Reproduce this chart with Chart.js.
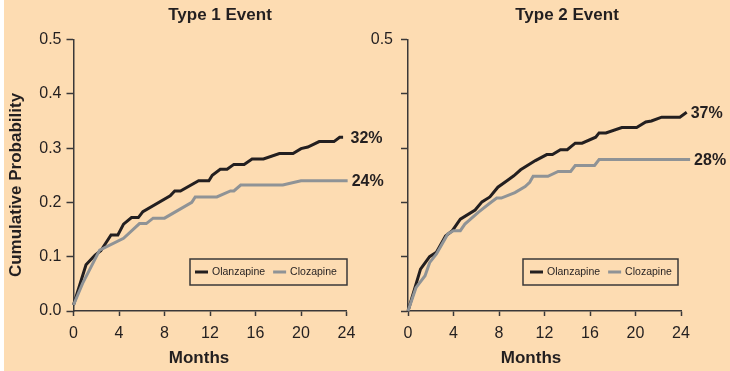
<!DOCTYPE html>
<html><head><meta charset="utf-8">
<script src="https://cdn.jsdelivr.net/npm/chart.js@4.4.0/dist/chart.umd.min.js"></script>
<style>
html,body{margin:0;padding:0;background:#fff;}
#bg{position:absolute;left:4px;top:0;width:726px;height:371px;background:#fddcb2;}
canvas{position:absolute;top:0;}
</style></head><body>
<div id="bg"></div>
<canvas id="c1" width="390" height="371" style="left:0px"></canvas>
<canvas id="c2" width="365" height="371" style="left:365px"></canvas>
<script>
// ---- data ----
const panelTitles = ['Type 1 Event', 'Type 2 Event'];
const seriesNames = ['Olanzapine', 'Clozapine'];
const xTicksMonths = [0, 4, 8, 12, 16, 20, 24];
const yTicksProb = [0.0, 0.1, 0.2, 0.3, 0.4, 0.5];

const t1OlanMonths = [0,1.1,1.9,2.4,3.3,3.9,4.4,5.1,5.7,6.1,8.5,8.9,9.4,11.0,11.9,12.2,12.9,13.5,14.1,15.0,15.7,16.7,18.1,19.3,20.0,20.6,21.6,22.9,23.4,23.7];
const t1OlanProb   = [0.011,0.085,0.103,0.111,0.140,0.140,0.160,0.172,0.172,0.183,0.212,0.221,0.221,0.240,0.240,0.250,0.261,0.261,0.270,0.270,0.280,0.280,0.290,0.290,0.299,0.302,0.312,0.312,0.320,0.320];
const t1ClozMonths = [0,0.8,2.3,4.4,5.8,6.4,7.0,8.0,10.4,10.7,12.6,13.8,14.1,14.7,18.4,20.0,24.1];
const t1ClozProb   = [0.011,0.051,0.112,0.134,0.161,0.161,0.171,0.171,0.200,0.210,0.210,0.221,0.221,0.232,0.232,0.240,0.240];

const t2OlanMonths = [0,1.1,1.9,2.5,3.3,3.9,4.6,5.9,6.5,7.2,7.9,8.7,9.3,9.9,11.2,12.2,12.7,13.4,14.0,14.7,15.3,16.5,16.8,17.4,18.8,20.1,20.9,21.4,22.3,23.9,24.5];
const t2OlanProb   = [0,0.077,0.100,0.108,0.138,0.148,0.169,0.186,0.201,0.210,0.228,0.240,0.249,0.260,0.277,0.288,0.288,0.297,0.297,0.309,0.309,0.320,0.328,0.328,0.338,0.338,0.348,0.350,0.357,0.357,0.366];
const t2ClozMonths = [0,0.7,1.5,1.9,2.5,3.5,4.0,4.6,5.0,6.2,7.1,7.8,8.2,9.4,10.3,10.7,11.0,12.3,13.2,14.3,14.7,16.4,16.8,24.8];
const t2ClozProb   = [0,0.043,0.065,0.089,0.105,0.142,0.148,0.148,0.160,0.182,0.197,0.208,0.208,0.218,0.229,0.237,0.248,0.248,0.257,0.257,0.268,0.268,0.279,0.279];

const t1EndLabels = ['32%', '24%'];
const t2EndLabels = ['37%', '28%'];

// ---- styles ----
const FONT = '"Liberation Sans", Arial, Helvetica, sans-serif';
const TXT = '#231f20';
const AX = '#3a3838';
const COLORS = ['#231f20', '#8f9396'];

function pts(xs, ys) { return xs.map((x, i) => ({ x: x, y: ys[i] })); }

const decor = {
  id: 'decor',
  afterDraw(chart, args, o) {
    const ctx = chart.ctx, ca = chart.chartArea;
    ctx.save();
    ctx.fillStyle = TXT;
    ctx.font = 'bold 17px ' + FONT;
    ctx.textAlign = 'center'; ctx.textBaseline = 'middle';
    ctx.fillText(o.title, o.titleX, 15);
    ctx.fillText('Months', o.monthsX, 358);
    if (o.yLabel) {
      ctx.save();
      ctx.translate(16, 185);
      ctx.rotate(-Math.PI / 2);
      ctx.fillText(o.yLabel, 0, 0);
      ctx.restore();
    }
    // end labels, in series order (datasets are stored reversed for drawing order)
    ctx.font = 'bold 16px ' + FONT;
    ctx.textAlign = 'left';
    const n = chart.data.datasets.length;
    const order = chart.data.datasets.map((d, i) => n - 1 - i);
    order.forEach((di, k) => {
      const meta = chart.getDatasetMeta(di);
      const last = meta.data[meta.data.length - 1];
      const x = Math.max(last.x, ca.right) + 4;
      ctx.fillText(o.endLabels[k], x, last.y + 1);
    });
    // legend
    const b = o.legendBox;
    ctx.strokeStyle = AX; ctx.lineWidth = 1.5;
    ctx.strokeRect(b.x, b.y, b.w, b.h);
    ctx.font = '10.5px ' + FONT;
    ctx.textBaseline = 'middle';
    let x = b.x + b.pad;
    const cy = b.y + b.h / 2;
    order.forEach(di => {
      const ds = chart.data.datasets[di];
      ctx.strokeStyle = ds.borderColor; ctx.lineWidth = 3;
      ctx.beginPath(); ctx.moveTo(x, cy); ctx.lineTo(x + 13, cy); ctx.stroke();
      x += 17;
      ctx.fillStyle = TXT;
      ctx.fillText(ds.label, x, cy);
      x += ctx.measureText(ds.label).width + 8;
    });
    ctx.restore();
  }
};

function makeChart(id, sets, showY, padRight, yWidth, yPad, decorOpts) {
  return new Chart(document.getElementById(id), {
    type: 'line',
    data: {
      datasets: sets.map((s, i) => ({
        label: seriesNames[i],
        data: pts(s[0], s[1]),
        borderColor: COLORS[i],
        borderWidth: 3,
        pointRadius: 0,
        tension: 0,
        fill: false,
        clip: false
      })).reverse()
    },
    options: {
      responsive: false,
      devicePixelRatio: 1,
      animation: false,
      layout: { padding: { left: 0, top: 39.5, right: padRight, bottom: 0 } },
      plugins: { legend: { display: false }, tooltip: { enabled: false }, decor: decorOpts },
      scales: {
        x: {
          type: 'linear', min: 0, max: 24,
          afterBuildTicks: s => { s.ticks = xTicksMonths.map(v => ({ value: v })); },
          afterFit: s => { s.height = 60; },
          grid: { drawOnChartArea: false, drawTicks: true, tickLength: 5, tickColor: AX, tickWidth: 1.5 },
          border: { display: true, color: AX, width: 1.5 },
          ticks: { color: TXT, font: { family: FONT, size: 16 }, padding: 8, maxRotation: 0 }
        },
        y: {
          min: 0, max: 0.5,
          afterBuildTicks: s => { s.ticks = yTicksProb.map(v => ({ value: v })); },
          afterFit: s => { s.width = yWidth; },
          grid: { drawOnChartArea: false, drawTicks: true, tickLength: 7, tickColor: AX, tickWidth: 1.5 },
          border: { display: true, color: AX, width: 1.5 },
          ticks: {
            color: TXT, font: { family: FONT, size: 16 }, padding: yPad,
            callback: v => (showY || Math.abs(v - 0.5) < 1e-9) ? v.toFixed(1) : ''
          }
        }
      }
    },
    plugins: [decor]
  });
}

const c1 = makeChart('c1', [[t1OlanMonths, t1OlanProb], [t1ClozMonths, t1ClozProb]], true, 43.5, 73.5, 5, {
  title: panelTitles[0], titleX: 220, monthsX: 199, yLabel: 'Cumulative Probability',
  endLabels: t1EndLabels, legendBox: { x: 190, y: 259, w: 157, h: 26, pad: 5 }
});
const c2 = makeChart('c2', [[t2OlanMonths, t2OlanProb], [t2ClozMonths, t2ClozProb]], false, 49, 43, 8, {
  title: panelTitles[1], titleX: 202, monthsX: 166, yLabel: null,
  endLabels: t2EndLabels, legendBox: { x: 158, y: 259, w: 155, h: 26, pad: 7 }
});
</script>
</body></html>
